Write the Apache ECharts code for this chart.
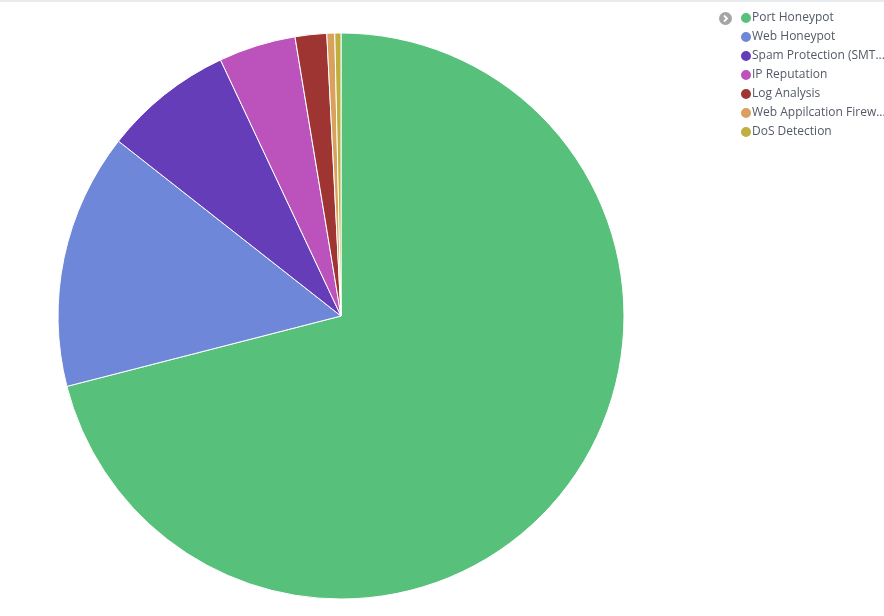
<!DOCTYPE html>
<html>
<head>
<meta charset="utf-8">
<script src="https://cdn.jsdelivr.net/npm/echarts@6/dist/echarts.min.js"></script>
<style>html,body{margin:0;padding:0;background:#fff;}#c{width:884px;height:616px;}</style>
</head>
<body>
<div id="c"></div>
<script>
const categories = ['Port Honeypot','Web Honeypot','Spam Protection (SMTP)','IP Reputation','Log Analysis','Web Appilcation Firewall','DoS Detection'];
const values = [71.0, 14.6, 7.4, 4.4, 1.8, 0.45, 0.35];
const colors = ['#57c17b','#6f87d8','#663db8','#bc52bc','#9e3533','#daa05d','#bfaf40'];

const chart = echarts.init(document.getElementById('c'), null, {renderer:'canvas'});
chart.setOption({
  animation:false,
  color: colors,
  legend:{
    orient:'vertical', left:739, top:11, padding:0,
    icon:'circle', itemWidth:12, itemHeight:12, itemGap:5,
    data: categories.map(n => n.indexOf('Spam') === 0 ? {name:n, textStyle:{width:135}} : {name:n}),
    textStyle:{fontFamily:'Open Sans', fontSize:12, color:'#535966', lineHeight:14,
      width:136, overflow:'truncate', ellipsis:'...', padding:[0,0,0,-5]}
  },
  graphic:[
    {type:'rect', shape:{x:0,y:0,width:884,height:2}, style:{fill:'#e7ebeb'}},
    {type:'circle', shape:{cx:725.5,cy:18.5,r:6.5}, style:{fill:'#a5a5a5'}},
    {type:'polyline', shape:{points:[[724,15.5],[727,18.5],[724,21.5]]}, style:{stroke:'#fff',lineWidth:1.8,fill:null}}
  ],
  series:[{
    type:'pie', center:[341,316], radius:[0,283], startAngle:90, clockwise:true,
    label:{show:false}, labelLine:{show:false},
    itemStyle:{borderColor:'#fff', borderWidth:1},
    data: categories.map((n,i)=>({name:n, value:values[i]}))
  }]
});
</script>
</body>
</html>
